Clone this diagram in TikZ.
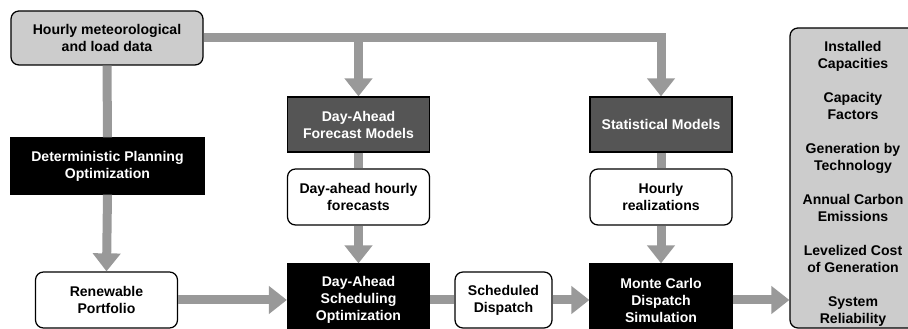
\documentclass[tikz,border=0pt]{standalone}
\usepackage{fontspec}
\setmainfont{Liberation Sans}
\usetikzlibrary{arrows.meta, positioning}
\definecolor{flowgray}{RGB}{153,153,153}
\definecolor{inputgray}{RGB}{204,204,204}
\definecolor{modelgray}{RGB}{85,85,85}
\tikzset{%
	every box/.style={
		draw=black,
		line width=0.9pt,
		align=center,
		inner sep=0pt,
		font=\fontsize{10}{12.1}\selectfont\bfseries
	},
	data box/.style={
		every box,
		fill=white,
		rounded corners=2mm,
		minimum width=35.5mm,
		minimum height=14mm
	},
	model box/.style={
		every box,
		fill=modelgray,
		text=white,
		minimum width=35.5mm,
		minimum height=13.75mm
	},
	opt box/.style={
		every box,
		fill=black,
		text=white,
		minimum width=35.5mm,
		minimum height=18mm
	},
}

\begin{document}
\begin{tikzpicture}[
			x=0.25mm, y=-0.25mm,
			link/.style={draw=flowgray, line width=2.25mm},
			flow/.style={link, -{Triangle[width=6.75mm, length=4.5mm]}}
			]
			\useasboundingbox (0,0) rectangle (908,329);
			
			% Inputs and planning
			\node[every box, fill=inputgray, rounded corners=2mm, minimum width=48mm, minimum height=13.5mm] (hourly) at (107,38) {Hourly meteorological\\and load data};
			\node[opt box, minimum width=48.25mm, minimum height=14mm] (det) at (107.5,166) {Deterministic Planning\\Optimization};
			\node[data box] (renew) at (106.5,300) {Renewable\\Portfolio};
			
			% Day-ahead column
			\node[model box] (dafm) at (358.5,124.5) {Day-Ahead\\Forecast Models};
			\node[data box] (dahf) at (358.5,197) {Day-ahead hourly\\forecasts};
			\node[opt box] (dasch) at (358.5,300) {Day-Ahead\\Scheduling\\Optimization};
			\node[data box, minimum width=24.25mm] (sched) at (503.5,300) {Scheduled\\Dispatch};
			
			% Real-time column
			\node[model box] (stat) at (661,124.5) {Statistical Models};
			\node[data box] (hreal) at (661,197) {Hourly\\realizations};
			\node[opt box] (mc) at (661,300) {Monte Carlo\\Dispatch\\Simulation};
			
			% Outputs
			\node[every box, fill=inputgray, rounded corners=2mm, minimum width=31.5mm, minimum height=75mm] (out) at (853,178) {};
			\node[font=\fontsize{10}{12.1}\selectfont\bfseries, align=center, inner sep=0pt] (outtext) at (853,183.5)
			{Installed\\Capacities\\[4.25mm]Capacity\\Factors\\[4.25mm]Generation by\\Technology\\[4.25mm]Annual Carbon\\Emissions\\[4.25mm]Levelized Cost\\of Generation\\[4.25mm]System\\Reliability};
			
			% Connectors
			\draw[flow] (hourly.east) -- (stat.north |- hourly.east) -- (stat.north);
			\draw[flow] (dafm.north |- hourly.east) -- (dafm.north);
			\draw[link] (hourly.south) -- (det.north);
			\draw[flow] (det.south) -- (renew.north);
			\draw[link] (dafm.south) -- (dahf.north);
			\draw[flow] (dahf.south) -- (dasch.north);
			\draw[flow] (renew.east) -- (dasch.west);
			\draw[link] (dasch.east) -- (sched.west);
			\draw[flow] (sched.east) -- (mc.west);
			\draw[link] (stat.south) -- (hreal.north);
			\draw[flow] (hreal.south) -- (mc.north);
			\draw[flow] (mc.east) -- (mc.east -| out.west);
			
		\end{tikzpicture}
\end{document}
